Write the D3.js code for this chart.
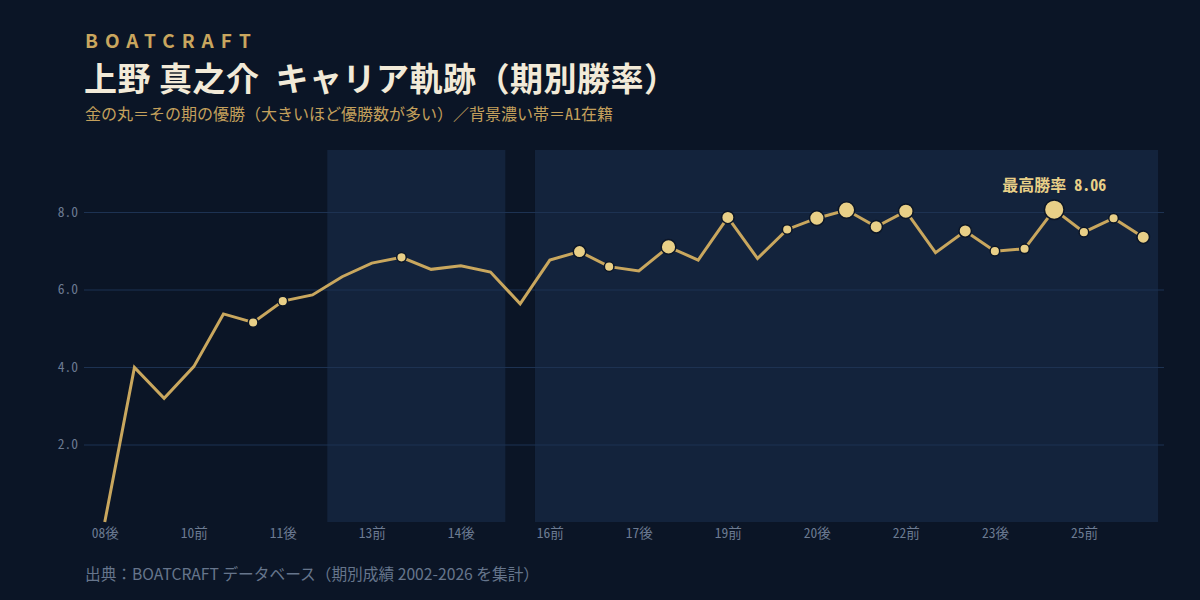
<!DOCTYPE html>
<html>
<head>
<meta charset="utf-8">
<script src="https://cdn.jsdelivr.net/npm/d3@7"></script>
<style>
  html, body { margin: 0; padding: 0; background: #0b1526; }
  svg { display: block; }
</style>
</head>
<body>
<script>
// 期別ラベル（08後〜26前）
var periods = ["08後","09前","09後","10前","10後","11前","11後","12前","12後","13前",
               "13後","14前","14後","15前","15後","16前","16後","17前","17後","18前",
               "18後","19前","19後","20前","20後","21前","21後","22前","22後","23前",
               "23後","24前","24後","25前","25後","26前"];
var winRate = [0.00, 3.99, 3.19, 4.01, 5.37, 5.15, 5.70, 5.86, 6.33, 6.68,
               6.83, 6.52, 6.61, 6.45, 5.63, 6.76, 6.98, 6.59, 6.48, 7.10,
               6.76, 7.86, 6.80, 7.55, 7.84, 8.05, 7.62, 8.02, 6.95, 7.51,
               6.99, 7.05, 8.06, 7.48, 7.84, 7.35];
// 優勝回数（0 は丸なし）
var wins = [0, 0, 0, 0, 0, 1, 1, 0, 0, 0,
            1, 0, 0, 0, 0, 0, 2, 1, 0, 3,
            0, 2, 0, 1, 3, 4, 2, 3, 0, 2,
            1, 1, 6, 1, 1, 2];
// A1在籍期間（開始期, 終了期）
var a1Spans = [["12後","15前"], ["16前","26前"]];
var yTicks = [2, 4, 6, 8];
var xTickLabels = ["08後","10前","11後","13前","14後","16前","17後","19前","20後","22前","23後","25前"];

var W = 1200, H = 600;
var plot = {left: 84, right: 1164, top: 150, bottom: 522};
var mono = "'Noto Sans Mono CJK JP', 'Noto Sans CJK JP', monospace";
var sans = "'Noto Sans CJK JP', sans-serif";

var svg = d3.select("body").append("svg")
  .attr("width", W)
  .attr("height", H)
  .style("background-color", "#0b1526");

var x = d3.scalePoint().domain(periods).range([plot.left, plot.right]).padding(0.7);
var y = d3.scaleLinear().domain([0, 9.6]).range([plot.bottom, plot.top]);
var r = d3.scaleSqrt().domain([1, 6]).range([4.8, 9.8]);
var step = x.step();

// A1 bands
svg.append("g").selectAll("rect")
  .data(a1Spans)
  .join("rect")
  .attr("x", function (d) { return x(d[0]) - step / 2; })
  .attr("width", function (d) { return x(d[1]) - x(d[0]) + step; })
  .attr("y", plot.top)
  .attr("height", plot.bottom - plot.top)
  .attr("fill", "#13233c");

// grid + y labels
var yAxis = svg.append("g")
  .attr("transform", "translate(" + plot.left + ",0)")
  .call(d3.axisLeft(y).tickValues(yTicks).tickSize(-(plot.right - plot.left)).tickFormat(d3.format(".1f")));
yAxis.select(".domain").remove();
yAxis.selectAll(".tick line").attr("stroke", "#1d3252").attr("stroke-width", 1);
yAxis.selectAll(".tick text")
  .attr("x", -6)
  .attr("fill", "#6c7b92")
  .style("font-family", mono)
  .style("font-size", "13.5px");

// x labels
var xAxis = svg.append("g")
  .attr("transform", "translate(0," + plot.bottom + ")")
  .call(d3.axisBottom(x).tickValues(xTickLabels).tickSize(0).tickPadding(6));
xAxis.select(".domain").remove();
xAxis.selectAll(".tick text")
  .attr("fill", "#6c7b92")
  .style("font-family", mono)
  .style("font-size", "13.5px");

// line
var line = d3.line()
  .x(function (d, i) { return x(periods[i]); })
  .y(function (d) { return y(d); });

svg.append("path")
  .datum(winRate)
  .attr("d", line)
  .attr("fill", "none")
  .attr("stroke", "#c9a75e")
  .attr("stroke-width", 3)
  .attr("stroke-linejoin", "miter");

// win dots
var dotData = periods.map(function (p, i) { return {p: p, v: winRate[i], n: wins[i]}; })
  .filter(function (d) { return d.n > 0; });

svg.append("g").selectAll("circle")
  .data(dotData)
  .join("circle")
  .attr("cx", function (d) { return x(d.p); })
  .attr("cy", function (d) { return y(d.v); })
  .attr("r", function (d) { return r(d.n); })
  .attr("fill", "#e8cf87")
  .attr("stroke", "#0b1526")
  .attr("stroke-width", 1.5);

// best annotation
var bestI = d3.maxIndex(winRate);
svg.append("text")
  .attr("x", x(periods[bestI]))
  .attr("y", y(winRate[bestI]) - 19)
  .attr("text-anchor", "middle")
  .attr("fill", "#e8cf87")
  .style("font-family", mono)
  .style("font-size", "16px")
  .style("font-weight", "bold")
  .text("最高勝率 " + d3.format(".2f")(winRate[bestI]));

// titles
svg.append("text")
  .attr("x", 85).attr("y", 48)
  .attr("fill", "#c9a65e")
  .style("font-family", sans)
  .style("font-size", "19px")
  .style("font-weight", "bold")
  .style("letter-spacing", "7px")
  .text("BOATCRAFT");

svg.append("text")
  .attr("x", 84).attr("y", 91)
  .attr("fill", "#f2ead8")
  .style("font-family", sans)
  .style("font-size", "33px")
  .style("font-weight", "bold")
  .style("letter-spacing", "0.5px")
  .style("white-space", "pre")
  .text("上野 真之介  キャリア軌跡（期別勝率）");

svg.append("text")
  .attr("x", 85).attr("y", 120)
  .attr("fill", "#c4a05c")
  .style("font-family", mono)
  .style("font-size", "16px")
  .text("金の丸＝その期の優勝（大きいほど優勝数が多い）／背景濃い帯＝A1在籍");

svg.append("text")
  .attr("x", 85).attr("y", 580)
  .attr("fill", "#66758c")
  .style("font-family", sans)
  .style("font-size", "15.7px")
  .style("white-space", "pre")
  .text("出典：BOATCRAFT データベース（期別成績 2002-2026 を集計）");
</script>
</body>
</html>
